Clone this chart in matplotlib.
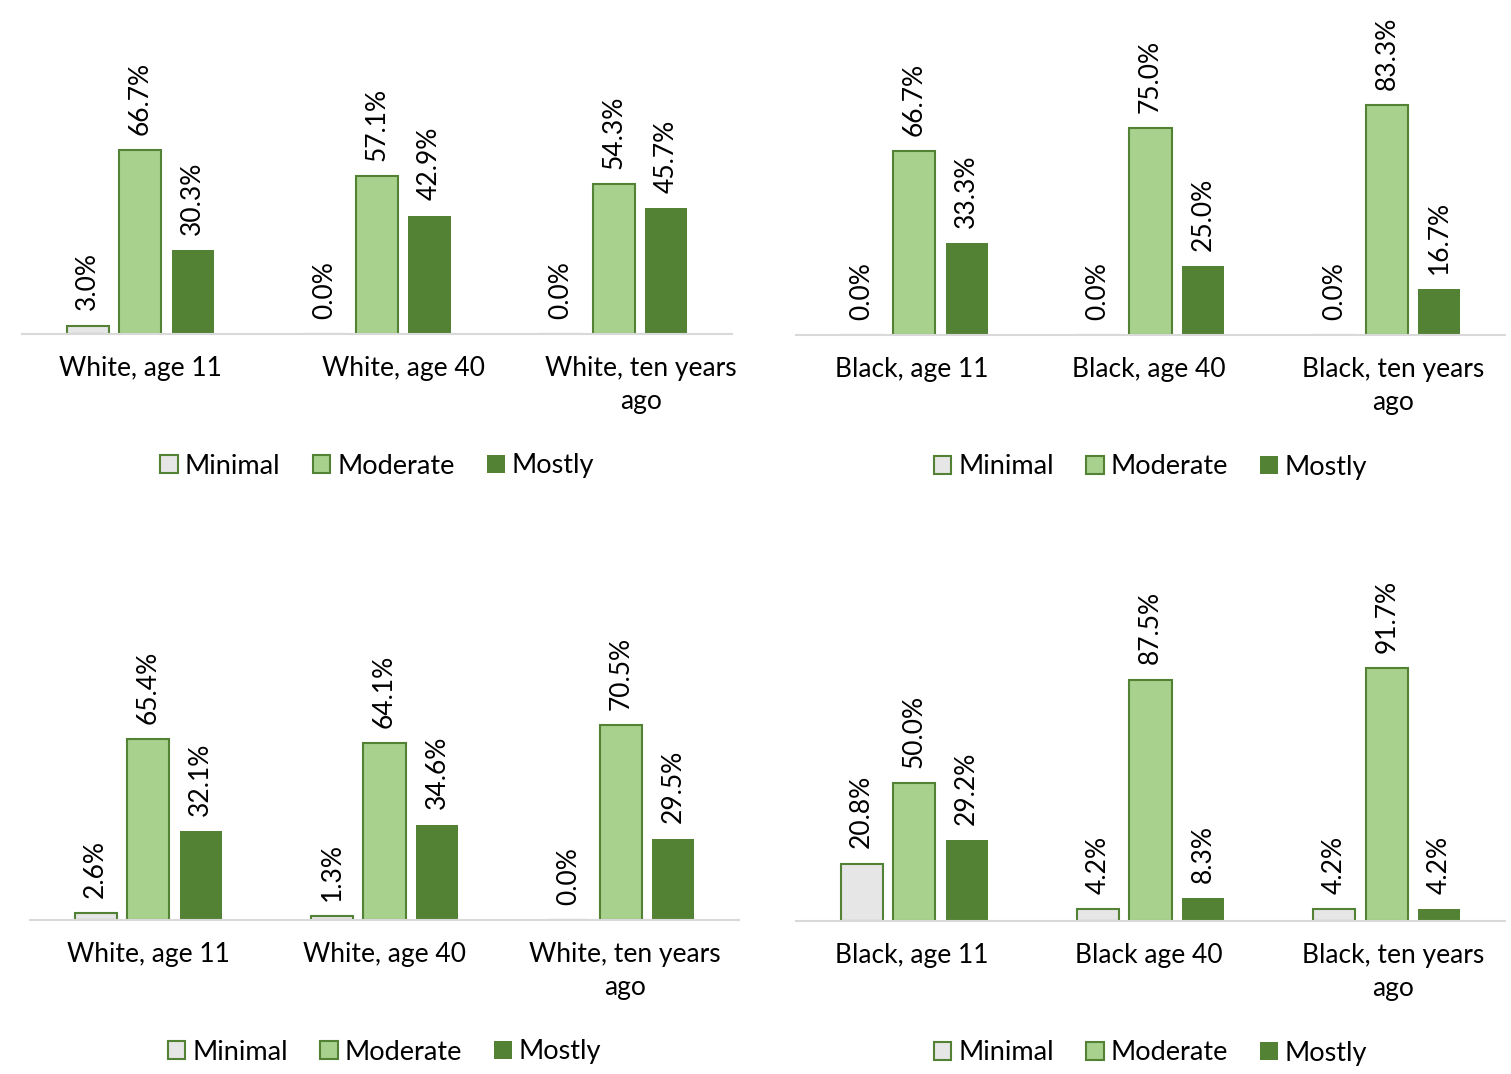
import numpy as np
import matplotlib.pyplot as plt
from matplotlib.patches import Patch
from matplotlib.transforms import ScaledTranslation

plt.rcParams['font.family'] = ['Lato', 'DejaVu Sans']

series = ['Minimal', 'Moderate', 'Mostly']

white_cats = ['White, age 11', 'White, age 40', 'White, ten years\nago']
black_cats_a = ['Black, age 11', 'Black, age 40', 'Black, ten years\nago']
black_cats_b = ['Black, age 11', 'Black age 40', 'Black, ten years\nago']

# top row
tl_minimal = [3.0, 0.0, 0.0]
tl_moderate = [66.7, 57.1, 54.3]
tl_mostly = [30.3, 42.9, 45.7]

tr_minimal = [0.0, 0.0, 0.0]
tr_moderate = [66.7, 75.0, 83.3]
tr_mostly = [33.3, 25.0, 16.7]

# bottom row
bl_minimal = [2.6, 1.3, 0.0]
bl_moderate = [65.4, 64.1, 70.5]
bl_mostly = [32.1, 34.6, 29.5]

br_minimal = [20.8, 4.2, 4.2]
br_moderate = [50.0, 87.5, 91.7]
br_mostly = [29.2, 8.3, 4.2]

W, H = 1511, 1074
fig = plt.figure(figsize=(W / 100, H / 100), dpi=100)

fills = ['#E7E6E6', '#A9D18E', '#548235']
edge = '#548235'
fs = 19


def panel(x0, x1, base, cats, minimal, moderate, mostly, label_shift=None):
    ax = fig.add_axes([x0 / W, 1 - base / H, (x1 - x0) / W, 276 / H])
    x = np.arange(len(cats))
    width = 0.178
    step = 0.222
    for i, (vals, fc) in enumerate(zip([minimal, moderate, mostly], fills)):
        lw = 1.5 if i < 2 else 0
        bars = ax.bar(x + (i - 1) * step, vals, width, color=fc,
                      edgecolor=edge, linewidth=lw, label=series[i])
        for b, v in zip(bars, vals):
            ax.annotate(f'{v:.1f}%', (b.get_x() + b.get_width() / 2, v),
                        xytext=(0, 11), textcoords='offset points',
                        rotation=90, ha='center', va='bottom', fontsize=fs,
                        annotation_clip=False)
    ax.set_xlim(-0.5, 2.5)
    ax.set_ylim(0, 100)
    ax.set_yticks([])
    ax.set_xticks(x)
    ax.set_xticklabels(cats, fontsize=fs, linespacing=1.4)
    ax.tick_params(axis='x', length=0, pad=16)
    if label_shift:
        for lab, dx in zip(ax.get_xticklabels(), label_shift):
            lab.set_transform(lab.get_transform() +
                              ScaledTranslation(dx / 100, 0, fig.dpi_scale_trans))
    for s in ['top', 'left', 'right']:
        ax.spines[s].set_visible(False)
    ax.spines['bottom'].set_color('#D9D9D9')
    ax.spines['bottom'].set_linewidth(1.5)
    ax.patch.set_alpha(0)
    handles = [Patch(facecolor=fills[0], edgecolor=edge, linewidth=1.5),
               Patch(facecolor=fills[1], edgecolor=edge, linewidth=1.5),
               Patch(facecolor=fills[2], edgecolor=fills[2], linewidth=0)]
    ax.legend(handles, series, loc='center', ncol=3,
              bbox_to_anchor=(0.5, -132 / 276), frameon=False,
              fontsize=19.5, handlelength=0.65, handleheight=0.65,
              handletextpad=0.25, columnspacing=1.2)
    return ax


panel(22, 732, 334, white_cats, tl_minimal, tl_moderate, tl_mostly,
      label_shift=[0, 27, 27])
panel(796, 1505, 335, black_cats_a, tr_minimal, tr_moderate, tr_mostly,
      label_shift=[-2, -2, 6])
panel(30, 739, 920, white_cats, bl_minimal, bl_moderate, bl_mostly,
      label_shift=[0, 0, 4])
panel(796, 1505, 921, black_cats_b, br_minimal, br_moderate, br_mostly,
      label_shift=[-2, -2, 6])

fig.savefig('out.png', dpi=100)
